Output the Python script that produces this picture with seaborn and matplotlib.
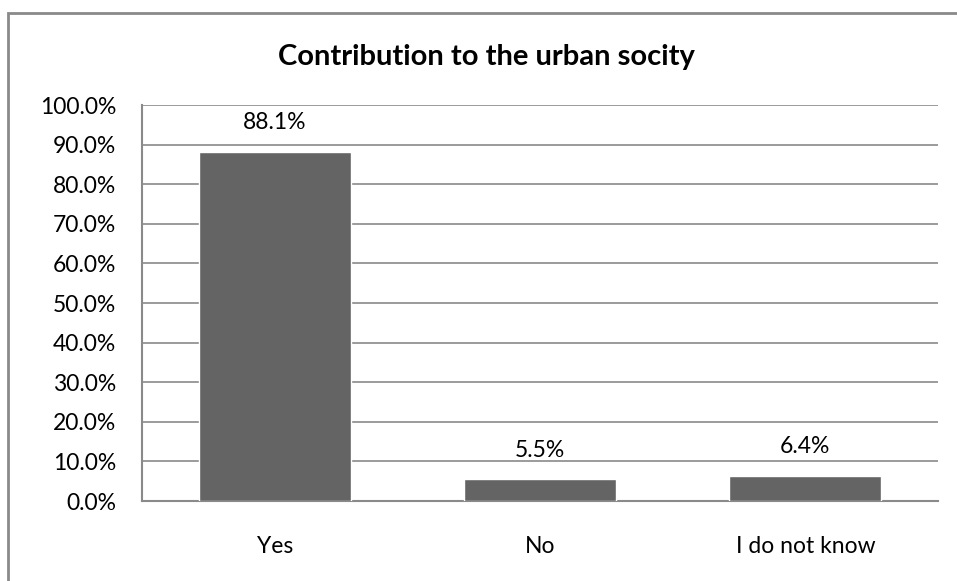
import matplotlib
matplotlib.use("Agg")
import matplotlib.pyplot as plt
import matplotlib.patches as mpatches
import seaborn as sns
import pandas as pd

categories = ["Yes", "No", "I do not know"]
shares = [88.1, 5.5, 6.4]
y_ticks = [0, 10, 20, 30, 40, 50, 60, 70, 80, 90, 100]

sns.set_theme(style="white")
plt.rcParams["font.family"] = ["Lato", "DejaVu Sans"]

df = pd.DataFrame({"answer": categories, "share": shares})

fig = plt.figure(figsize=(9.57, 5.81), dpi=100)
ax = fig.add_axes([142 / 957, 1 - 501 / 581, (938 - 142) / 957, (501 - 105) / 581])

sns.barplot(data=df, x="answer", y="share", color="#646464", saturation=1,
            width=0.573, ax=ax, zorder=3)

ax.set_ylim(0, 100)
ax.set_yticks(y_ticks)
ax.set_yticklabels([f"{v:.1f}%" for v in y_ticks], fontsize=16.5, color="black")
ax.tick_params(axis="x", labelsize=16.5, colors="black", pad=25, length=0)
ax.tick_params(axis="y", length=0, pad=18.5)
ax.set_xlabel("")
ax.set_ylabel("")
ax.grid(axis="y", color="#8a8a8a", linewidth=1.2, zorder=0)
ax.set_axisbelow(True)
for side in ["top", "right"]:
    ax.spines[side].set_visible(False)
for side in ["left", "bottom"]:
    ax.spines[side].set_color("#8a8a8a")
    ax.spines[side].set_linewidth(1.5)

for patch, val in zip(ax.patches, shares):
    ax.annotate(f"{val:.1f}%", (patch.get_x() + patch.get_width() / 2, val),
                xytext=(0, 21), textcoords="offset points",
                ha="center", va="center", fontsize=16.5, color="black")

fig.text(486 / 957, 1 - 57 / 581, "Contribution to the urban socity",
         ha="center", va="center", fontsize=21, fontweight="bold", color="black")

# outer chart frame
fig.patches.append(mpatches.Rectangle((8 / 957, -0.1), 1.2, 1 - 13 / 581 + 0.1,
                                      transform=fig.transFigure, fill=False,
                                      edgecolor="#8a8a8a", linewidth=2))

fig.savefig("out.png", dpi=100)
